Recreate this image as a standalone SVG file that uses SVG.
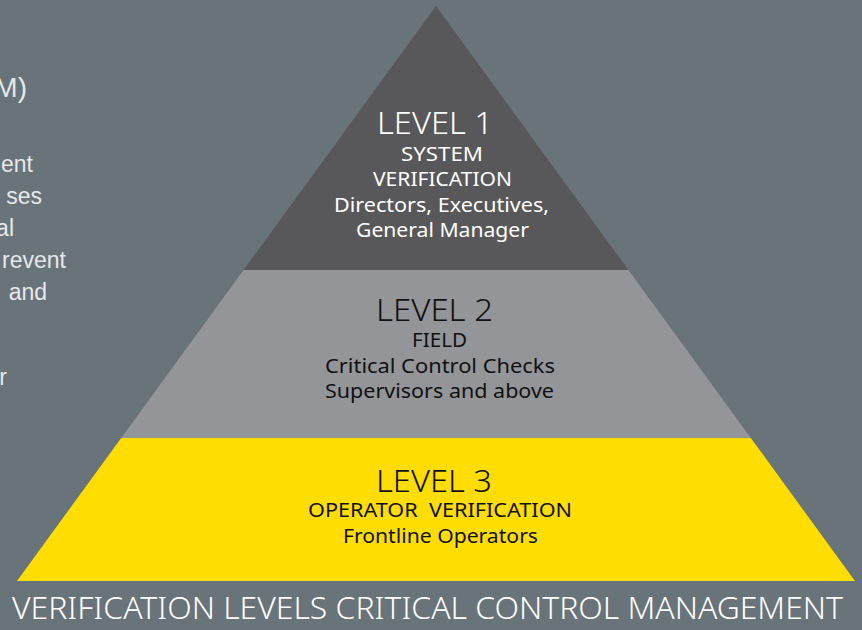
<svg xmlns="http://www.w3.org/2000/svg" width="862" height="630" viewBox="0 0 862 630">
  <style>
    .bg { fill: #69737a; }
    .side { font-family: "Liberation Sans", Arial, sans-serif; font-size: 23px; fill: #e6e8e9; }
    .lvl { font-family: "Noto Sans", "DejaVu Sans", sans-serif; font-size: 31px; font-weight: 300; text-anchor: middle; }
    .sub { font-family: "Noto Sans", "DejaVu Sans", sans-serif; font-size: 19.5px; text-anchor: middle; }
    .light { fill: #ffffff; }
    .dark { fill: #111111; }
    .title { font-family: "Noto Sans", "DejaVu Sans", sans-serif; font-size: 32px; font-weight: 300; fill: #ffffff; text-anchor: middle; }
  </style>
  <rect class="bg" x="0" y="0" width="862" height="630"/>

  <g id="side-text">
    <text class="side" x="27" y="97" text-anchor="end" style="font-size:28px">M)</text>
    <text class="side" x="33" y="172" text-anchor="end">ent</text>
    <text class="side" x="42" y="204" text-anchor="end">ses</text>
    <text class="side" x="14" y="236" text-anchor="end">al</text>
    <text class="side" x="66" y="268" text-anchor="end">revent</text>
    <text class="side" x="47" y="300" text-anchor="end">and</text>
    <text class="side" x="7" y="385" text-anchor="end">r</text>
  </g>

  <g id="level1">
    <polygon points="436,6 628.4,270 243.6,270" fill="#58585a"/>
    <text class="lvl light" x="435" y="134" textLength="116" lengthAdjust="spacingAndGlyphs">LEVEL 1</text>
    <text class="sub light" x="442" y="161" textLength="82" lengthAdjust="spacingAndGlyphs">SYSTEM</text>
    <text class="sub light" x="442.5" y="186" textLength="139" lengthAdjust="spacingAndGlyphs">VERIFICATION</text>
    <text class="sub light" x="441.5" y="212" textLength="215" lengthAdjust="spacingAndGlyphs">Directors, Executives,</text>
    <text class="sub light" x="442.5" y="237" textLength="173" lengthAdjust="spacingAndGlyphs">General Manager</text>
  </g>

  <g id="level2">
    <polygon points="243.6,270 628.4,270 750.8,438 121.2,438" fill="#939598"/>
    <text class="lvl dark" x="434.5" y="321" textLength="117" lengthAdjust="spacingAndGlyphs">LEVEL 2</text>
    <text class="sub dark" x="439.5" y="347" textLength="55" lengthAdjust="spacingAndGlyphs">FIELD</text>
    <text class="sub dark" x="440" y="373" textLength="230" lengthAdjust="spacingAndGlyphs">Critical Control Checks</text>
    <text class="sub dark" x="439.5" y="398" textLength="229" lengthAdjust="spacingAndGlyphs">Supervisors and above</text>
  </g>

  <g id="level3">
    <polygon points="121.2,438 750.8,438 855,581 17,581" fill="#ffdd00"/>
    <text class="lvl dark" x="434" y="492" textLength="116" lengthAdjust="spacingAndGlyphs">LEVEL 3</text>
    <text class="sub dark" x="440" y="517" textLength="264" lengthAdjust="spacingAndGlyphs" xml:space="preserve">OPERATOR  VERIFICATION</text>
    <text class="sub dark" x="440.5" y="543" textLength="195" lengthAdjust="spacingAndGlyphs">Frontline Operators</text>
  </g>

  <g id="caption">
    <text class="title" x="427.5" y="619" textLength="831" lengthAdjust="spacingAndGlyphs">VERIFICATION LEVELS CRITICAL CONTROL MANAGEMENT</text>
  </g>
</svg>
